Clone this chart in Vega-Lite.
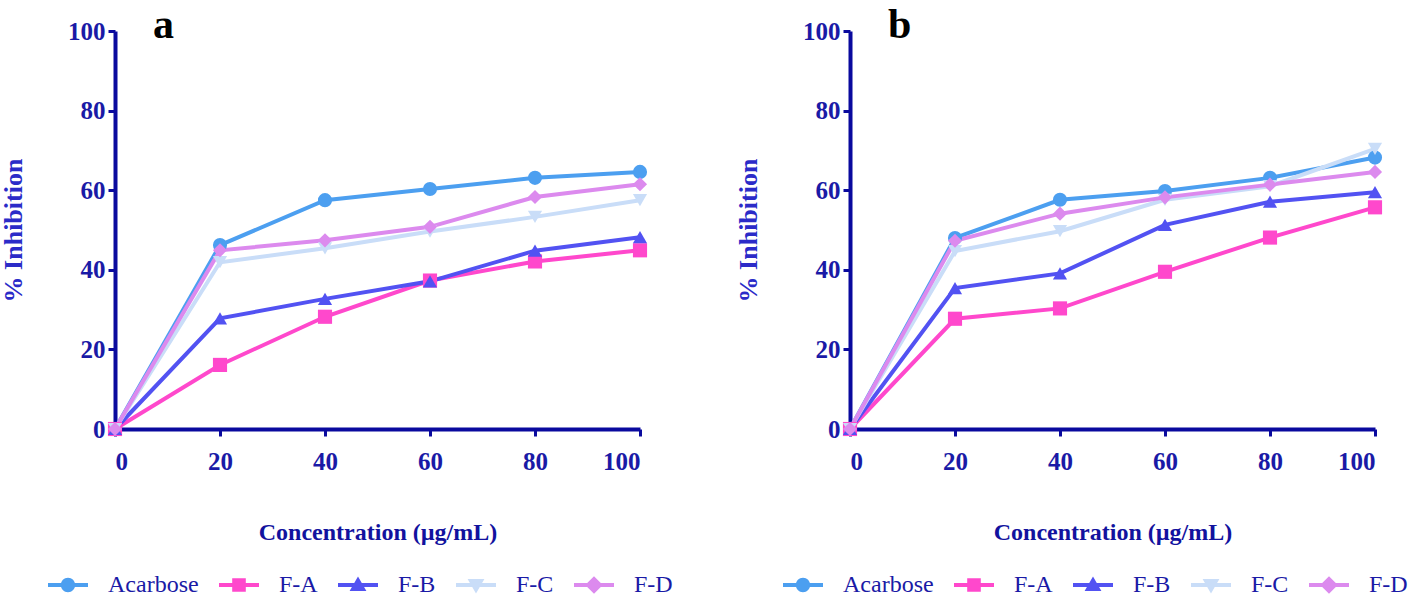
{
  "$schema": "https://vega.github.io/schema/vega-lite/v6.json",
  "padding": {"left": 0, "top": 4, "right": 0, "bottom": 0},
  "background": "white",
  "datasets": {
    "a": [
      {"conc": 0, "series": "Acarbose", "value": 0}, {"conc": 20, "series": "Acarbose", "value": 46.2}, {"conc": 40, "series": "Acarbose", "value": 57.5}, {"conc": 60, "series": "Acarbose", "value": 60.3}, {"conc": 80, "series": "Acarbose", "value": 63.1}, {"conc": 100, "series": "Acarbose", "value": 64.6},
      {"conc": 0, "series": "F-A", "value": 0}, {"conc": 20, "series": "F-A", "value": 16.1}, {"conc": 40, "series": "F-A", "value": 28.2}, {"conc": 60, "series": "F-A", "value": 37.3}, {"conc": 80, "series": "F-A", "value": 42.1}, {"conc": 100, "series": "F-A", "value": 44.9},
      {"conc": 0, "series": "F-B", "value": 0}, {"conc": 20, "series": "F-B", "value": 27.8}, {"conc": 40, "series": "F-B", "value": 32.7}, {"conc": 60, "series": "F-B", "value": 37.1}, {"conc": 80, "series": "F-B", "value": 44.8}, {"conc": 100, "series": "F-B", "value": 48.2},
      {"conc": 0, "series": "F-C", "value": 0}, {"conc": 20, "series": "F-C", "value": 41.9}, {"conc": 40, "series": "F-C", "value": 45.4}, {"conc": 60, "series": "F-C", "value": 49.6}, {"conc": 80, "series": "F-C", "value": 53.3}, {"conc": 100, "series": "F-C", "value": 57.5},
      {"conc": 0, "series": "F-D", "value": 0}, {"conc": 20, "series": "F-D", "value": 44.9}, {"conc": 40, "series": "F-D", "value": 47.4}, {"conc": 60, "series": "F-D", "value": 50.8}, {"conc": 80, "series": "F-D", "value": 58.3}, {"conc": 100, "series": "F-D", "value": 61.5}
    ],
    "b": [
      {"conc": 0, "series": "Acarbose", "value": 0}, {"conc": 20, "series": "Acarbose", "value": 48.0}, {"conc": 40, "series": "Acarbose", "value": 57.6}, {"conc": 60, "series": "Acarbose", "value": 59.8}, {"conc": 80, "series": "Acarbose", "value": 63.1}, {"conc": 100, "series": "Acarbose", "value": 68.2},
      {"conc": 0, "series": "F-A", "value": 0}, {"conc": 20, "series": "F-A", "value": 27.7}, {"conc": 40, "series": "F-A", "value": 30.3}, {"conc": 60, "series": "F-A", "value": 39.5}, {"conc": 80, "series": "F-A", "value": 48.1}, {"conc": 100, "series": "F-A", "value": 55.7},
      {"conc": 0, "series": "F-B", "value": 0}, {"conc": 20, "series": "F-B", "value": 35.4}, {"conc": 40, "series": "F-B", "value": 39.1}, {"conc": 60, "series": "F-B", "value": 51.3}, {"conc": 80, "series": "F-B", "value": 57.1}, {"conc": 100, "series": "F-B", "value": 59.5},
      {"conc": 0, "series": "F-C", "value": 0}, {"conc": 20, "series": "F-C", "value": 44.7}, {"conc": 40, "series": "F-C", "value": 49.7}, {"conc": 60, "series": "F-C", "value": 57.6}, {"conc": 80, "series": "F-C", "value": 61.0}, {"conc": 100, "series": "F-C", "value": 70.4},
      {"conc": 0, "series": "F-D", "value": 0}, {"conc": 20, "series": "F-D", "value": 47.3}, {"conc": 40, "series": "F-D", "value": 54.1}, {"conc": 60, "series": "F-D", "value": 58.2}, {"conc": 80, "series": "F-D", "value": 61.4}, {"conc": 100, "series": "F-D", "value": 64.6}
    ]
  },
  "config": {
    "view": {"stroke": null},
    "font": "Liberation Serif",
    "axis": {
      "grid": false,
      "domainColor": "#0a0a9e",
      "domainWidth": 4,
      "tickColor": "#0a0a9e",
      "tickWidth": 3,
      "tickSize": 7,
      "labelFont": "Liberation Serif",
      "labelFontWeight": "bold",
      "labelFontSize": 25,
      "labelColor": "#1a1aa6",
      "titleFont": "Liberation Serif",
      "titleFontWeight": "bold",
      "titleFontSize": 24
    },
    "title": {"font": "Liberation Serif", "fontWeight": "bold", "fontSize": 42, "color": "#000000"}
  },
  "resolve": {"scale": {"color": "independent"}, "legend": {"color": "independent"}},
  "spacing": 62,
  "hconcat": [
    {
      "width": 525,
      "height": 398,
      "data": {"name": "a"},
      "title": {"text": "a", "anchor": "start", "frame": "group", "dx": 38, "offset": -61, "baseline": "alphabetic"},
      "encoding": {
        "x": {"field": "conc", "type": "quantitative", "scale": {"domain": [0, 100], "nice": false}, "axis": {"values": [0, 20, 40, 60, 80, 100], "title": "Concentration (µg/mL)", "titleColor": "#12129e", "labelPadding": 13, "titlePadding": 46}},
        "y": {"field": "value", "type": "quantitative", "scale": {"domain": [0, 100], "nice": false}, "axis": {"values": [0, 20, 40, 60, 80, 100], "title": "% Inhibition", "titleColor": "#2b2bc8", "titleFontSize": 26, "labelPadding": 3, "titlePadding": 41}},
        "color": {"field": "series", "type": "nominal", "scale": {"domain": ["Acarbose", "F-A", "F-B", "F-C", "F-D"], "range": ["#4c9ff0", "#ff48cc", "#5252f2", "#c9ddf8", "#dc8aee"]},
          "legend": {"orient": "none", "legendX": -67, "legendY": 534, "direction": "horizontal", "columns": 5, "title": null, "symbolSize": 1600, "symbolStrokeWidth": 0, "symbolOpacity": 1, "labelFont": "Liberation Serif", "labelFontSize": 24, "labelColor": "#1a1aa6", "labelOffset": 20, "columnPadding": 20,
            "symbolType": {"expr": "datum.value=='Acarbose'?'M-1,-0.1H1V0.1H-1Z M-0.36,0A0.36,0.36,0,1,1,0.36,0A0.36,0.36,0,1,1,-0.36,0Z':datum.value=='F-A'?'M-1,-0.1H1V0.1H-1Z M-0.34,-0.34H0.34V0.34H-0.34Z':datum.value=='F-B'?'M-1,-0.1H1V0.1H-1Z M0,-0.42L0.42,0.3L-0.42,0.3Z':datum.value=='F-C'?'M-1,-0.1H1V0.1H-1Z M-0.42,-0.3L0.42,-0.3L0,0.42Z':'M-1,-0.1H1V0.1H-1Z M0,-0.44L0.44,0L0,0.44L-0.44,0Z'"},
            "symbolFillColor": {"expr": "datum.value=='Acarbose'?'#4c9ff0':datum.value=='F-A'?'#ff48cc':datum.value=='F-B'?'#5252f2':datum.value=='F-C'?'#c9ddf8':'#dc8aee'"}
          }
        }
      },
      "layer": [
        {"mark": {"type": "line", "strokeWidth": 4}},
        {"transform": [{"filter": "datum.series == 'Acarbose'"}], "mark": {"type": "point", "shape": "circle", "filled": true, "size": 200, "opacity": 1}},
        {"transform": [{"filter": "datum.series == 'F-A'"}], "mark": {"type": "point", "shape": "square", "filled": true, "size": 200, "opacity": 1}},
        {"transform": [{"filter": "datum.series == 'F-B'"}], "mark": {"type": "point", "shape": "triangle-up", "filled": true, "size": 200, "opacity": 1}},
        {"transform": [{"filter": "datum.series == 'F-C'"}], "mark": {"type": "point", "shape": "triangle-down", "filled": true, "size": 200, "opacity": 1}},
        {"transform": [{"filter": "datum.series == 'F-D'"}], "mark": {"type": "point", "shape": "diamond", "filled": true, "size": 200, "opacity": 1}}
      ]
    },
    {
      "width": 525,
      "height": 398,
      "data": {"name": "b"},
      "title": {"text": "b", "anchor": "start", "frame": "group", "dx": 38, "offset": -61, "baseline": "alphabetic"},
      "encoding": {
        "x": {"field": "conc", "type": "quantitative", "scale": {"domain": [0, 100], "nice": false}, "axis": {"values": [0, 20, 40, 60, 80, 100], "title": "Concentration (µg/mL)", "titleColor": "#12129e", "labelPadding": 13, "titlePadding": 46}},
        "y": {"field": "value", "type": "quantitative", "scale": {"domain": [0, 100], "nice": false}, "axis": {"values": [0, 20, 40, 60, 80, 100], "title": "% Inhibition", "titleColor": "#2b2bc8", "titleFontSize": 26, "labelPadding": 3, "titlePadding": 41}},
        "color": {"field": "series", "type": "nominal", "scale": {"domain": ["Acarbose", "F-A", "F-B", "F-C", "F-D"], "range": ["#4c9ff0", "#ff48cc", "#5252f2", "#c9ddf8", "#dc8aee"]},
          "legend": {"orient": "none", "legendX": -67, "legendY": 534, "direction": "horizontal", "columns": 5, "title": null, "symbolSize": 1600, "symbolStrokeWidth": 0, "symbolOpacity": 1, "labelFont": "Liberation Serif", "labelFontSize": 24, "labelColor": "#1a1aa6", "labelOffset": 20, "columnPadding": 20,
            "symbolType": {"expr": "datum.value=='Acarbose'?'M-1,-0.1H1V0.1H-1Z M-0.36,0A0.36,0.36,0,1,1,0.36,0A0.36,0.36,0,1,1,-0.36,0Z':datum.value=='F-A'?'M-1,-0.1H1V0.1H-1Z M-0.34,-0.34H0.34V0.34H-0.34Z':datum.value=='F-B'?'M-1,-0.1H1V0.1H-1Z M0,-0.42L0.42,0.3L-0.42,0.3Z':datum.value=='F-C'?'M-1,-0.1H1V0.1H-1Z M-0.42,-0.3L0.42,-0.3L0,0.42Z':'M-1,-0.1H1V0.1H-1Z M0,-0.44L0.44,0L0,0.44L-0.44,0Z'"},
            "symbolFillColor": {"expr": "datum.value=='Acarbose'?'#4c9ff0':datum.value=='F-A'?'#ff48cc':datum.value=='F-B'?'#5252f2':datum.value=='F-C'?'#c9ddf8':'#dc8aee'"}
          }
        }
      },
      "layer": [
        {"mark": {"type": "line", "strokeWidth": 4}},
        {"transform": [{"filter": "datum.series == 'Acarbose'"}], "mark": {"type": "point", "shape": "circle", "filled": true, "size": 200, "opacity": 1}},
        {"transform": [{"filter": "datum.series == 'F-A'"}], "mark": {"type": "point", "shape": "square", "filled": true, "size": 200, "opacity": 1}},
        {"transform": [{"filter": "datum.series == 'F-B'"}], "mark": {"type": "point", "shape": "triangle-up", "filled": true, "size": 200, "opacity": 1}},
        {"transform": [{"filter": "datum.series == 'F-C'"}], "mark": {"type": "point", "shape": "triangle-down", "filled": true, "size": 200, "opacity": 1}},
        {"transform": [{"filter": "datum.series == 'F-D'"}], "mark": {"type": "point", "shape": "diamond", "filled": true, "size": 200, "opacity": 1}}
      ]
    }
  ]
}
